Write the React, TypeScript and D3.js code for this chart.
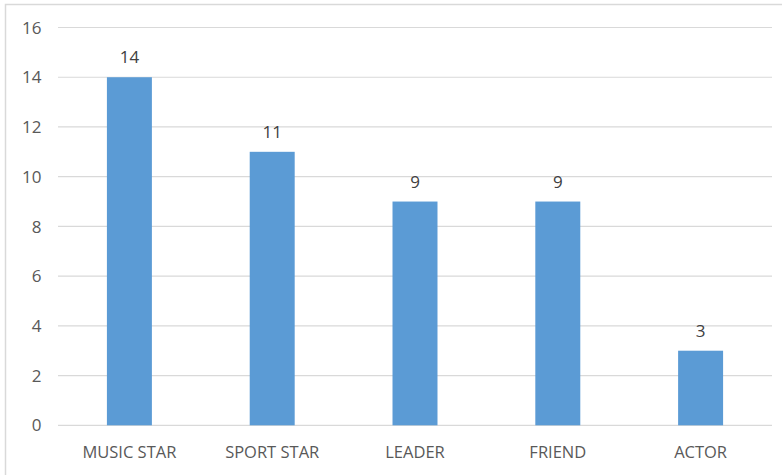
import React from "react";
import * as d3 from "d3";

const categories = ["MUSIC STAR", "SPORT STAR", "LEADER", "FRIEND", "ACTOR"];
const values = [14, 11, 9, 9, 3];
const yTicks = [0, 2, 4, 6, 8, 10, 12, 14, 16];

export default function App() {
  const W = 782, H = 475;
  const left = 58, right = 772, top = 27.5, bottom = 425.3;
  const x = d3.scaleBand<string>().domain(categories).range([left, right]).paddingInner(0.685).paddingOuter(0.3425);
  const y = d3.scaleLinear().domain([0, 16]).range([bottom, top]);
  const font = "'Open Sans', 'Liberation Sans', sans-serif";
  return (
    <svg width={W} height={H} style={{ position: "absolute", left: 0, top: 0, background: "#fff" }}>
      <rect x={5.5} y={4.5} width={W} height={H} fill="#fff" stroke="#D9D9D9" strokeWidth={1.5} />
      {yTicks.map((t) => (
        <g key={t}>
          <line x1={left} x2={right} y1={y(t)} y2={y(t)} stroke="#D9D9D9" strokeWidth={1.2} />
          <text x={41.5} y={y(t)} dy="0.36em" textAnchor="end" fontSize={17} fill="#595959" fontFamily={font}>{t}</text>
        </g>
      ))}
      {categories.map((c, i) => (
        <g key={c}>
          <rect x={x(c)} y={y(values[i])} width={x.bandwidth()} height={bottom - y(values[i])} fill="#5B9BD5" />
          <text x={(x(c) as number) + x.bandwidth() / 2} y={y(values[i]) - 14} textAnchor="middle" fontSize={17} fill="#404040" fontFamily={font}>{values[i]}</text>
          <text x={(x(c) as number) + x.bandwidth() / 2} y={458} textAnchor="middle" fontSize={16.5} fill="#595959" fontFamily={font}>{c}</text>
        </g>
      ))}
    </svg>
  );
}
